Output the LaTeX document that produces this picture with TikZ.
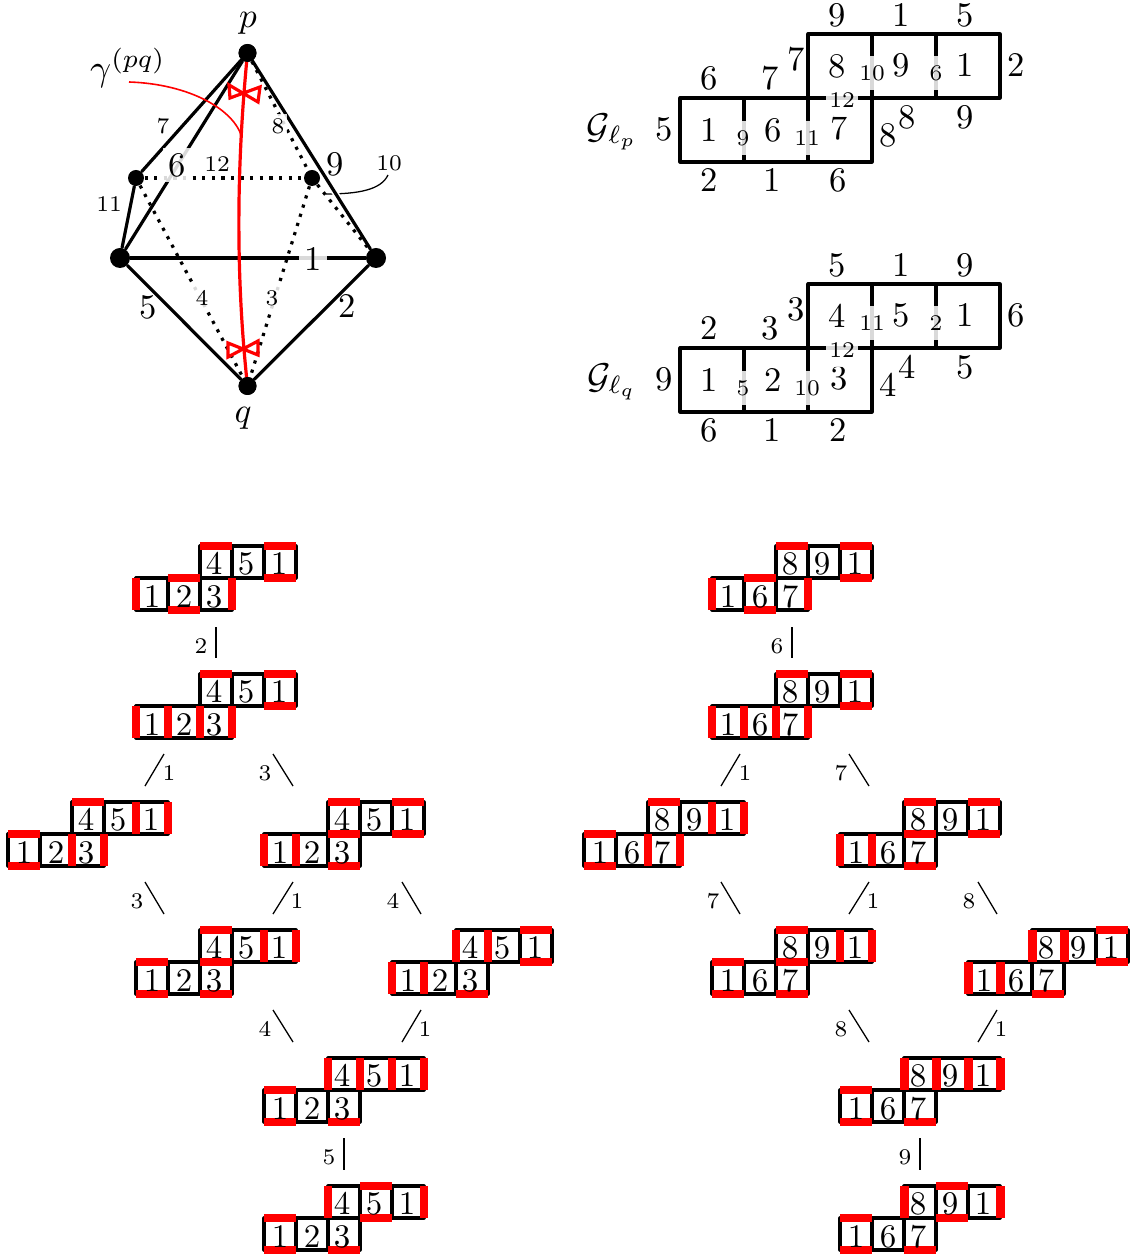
\documentclass[tikz,border=0pt]{standalone}
\usepackage{amsmath}
\tikzset{
  px/.style={x=0.3125pt,y=-0.3125pt},
  ln/.style={line width=1pt,line cap=round,line join=round,black},
  dots/.style={line width=1pt,dotted,black},
  redbar/.style={line width=2.8pt,red,line cap=butt},
  redln/.style={line width=1pt,red},
  bow/.style={line width=1pt,red,line join=miter},
  thinred/.style={line width=0.5pt,red},
  thinln/.style={line width=0.4pt,black},
  vtx/.style={circle,fill=black,inner sep=0pt,minimum size=#1},
  dig/.style={inner sep=0pt,scale=1.03},
  big/.style={scale=1.08,fill=white,fill opacity=.85,text opacity=1,inner xsep=1.6pt,inner ysep=1.5pt},
  sml/.style={font=\scriptsize,fill=white,fill opacity=.85,text opacity=1,inner xsep=1pt,inner ysep=3pt},
  tsm/.style={font=\scriptsize,fill=white,fill opacity=.85,text opacity=1,inner xsep=0.8pt,inner ysep=1.5pt},
  smallbare/.style={font=\scriptsize,inner sep=0pt},
  bare/.style={inner sep=0pt,scale=1.08},
  mathlab/.style={inner sep=0pt,scale=#1},
}
\newcommand{\xTa}{\draw[redbar] (0,0)--(32,0);}
\newcommand{\xTb}{\draw[redbar] (32,0)--(64,0);}
\newcommand{\xBa}{\draw[redbar] (0,32)--(32,32);}
\newcommand{\xBb}{\draw[redbar] (32,32)--(64,32);}
\newcommand{\xBc}{\draw[redbar] (64,32)--(96,32);}
\newcommand{\xLa}{\draw[redbar] (0,0)--(0,32);}
\newcommand{\xab}{\draw[redbar] (32,0)--(32,32);}
\newcommand{\xbc}{\draw[redbar] (64,0)--(64,32);}
\newcommand{\xRc}{\draw[redbar] (96,0)--(96,32);}
\newcommand{\xTd}{\draw[redbar] (64,-32)--(96,-32);}
\newcommand{\xTe}{\draw[redbar] (96,-32)--(128,-32);}
\newcommand{\xTf}{\draw[redbar] (128,-32)--(160,-32);}
\newcommand{\xBd}{\draw[redbar] (64,0)--(96,0);}
\newcommand{\xBe}{\draw[redbar] (96,0)--(128,0);}
\newcommand{\xBf}{\draw[redbar] (128,0)--(160,0);}
\newcommand{\xLd}{\draw[redbar] (64,-32)--(64,0);}
\newcommand{\xde}{\draw[redbar] (96,-32)--(96,0);}
\newcommand{\xef}{\draw[redbar] (128,-32)--(128,0);}
\newcommand{\xRf}{\draw[redbar] (160,-32)--(160,0);}
\newcommand{\flipg}[6]{%
  \begin{scope}[shift={(#2,#3)}]
    \draw[ln] (0,0) rectangle (96,32);
    \draw[ln] (64,-32) rectangle (160,0);
    \draw[ln] (32,0)--(32,32) (64,0)--(64,32) (96,-32)--(96,0) (128,-32)--(128,0);
    #6
    \node[dig] (#1a) at (16,18.5) {1};
    \node[dig] (#1b) at (48,18.5) {#4};
    \node[dig] (#1c) at (78,18.5) {#5};
    \node[dig] (#1d) at (78,-14.5) {\dlabel};
    \node[dig] (#1e) at (110,-14.5) {\elabel};
    \node[dig] (#1f) at (143,-14.5) {1};
  \end{scope}}
\newcommand{\tconn}[8]{%
  \coordinate (#1s) at (#2,#3);
  \coordinate (#1t) at (#4,#5);
  \draw[thinln] (#1s)--(#1t);
  \node[smallbare] (#1l) at (#7,#8) {#6};}
\newcommand{\ftree}[5]{%
  \def\dlabel{#4}\def\elabel{#5}%
  \flipg{#1g}{136}{578}{#2}{#3}{\xTd\xTf\xBf\xLa\xTb\xBb\xRc}
  \flipg{#1h}{136}{706}{#2}{#3}{\xTd\xTf\xBf\xLa\xab\xbc\xRc}
  \flipg{#1i}{8}{834}{#2}{#3}{\xTd\xef\xRf\xTa\xBa\xbc\xRc}
  \flipg{#1j}{264}{834}{#2}{#3}{\xTd\xBd\xTf\xBf\xLa\xab\xBc}
  \flipg{#1k}{136}{962}{#2}{#3}{\xTd\xBd\xef\xRf\xTa\xBa\xBc}
  \flipg{#1m}{392}{962}{#2}{#3}{\xLd\xde\xTf\xBf\xLa\xab\xBc}
  \flipg{#1n}{264}{1090}{#2}{#3}{\xLd\xde\xef\xRf\xTa\xBa\xBc}
  \flipg{#1o}{264}{1218}{#2}{#3}{\xLd\xTe\xBe\xRf\xTa\xBa\xBc}
  \tconn{#1ca}{216}{627}{216}{658}{#2}{201}{646}
  \tconn{#1cb}{164}{754}{145}{786}{1}{169}{773}
  \tconn{#1cc}{273}{754}{293}{786}{#3}{265}{773}
  \tconn{#1cd}{145}{882}{164}{914}{#3}{137}{901}
  \tconn{#1ce}{293}{882}{273}{914}{1}{297}{901}
  \tconn{#1cf}{402}{882}{421}{914}{#4}{393}{901}
  \tconn{#1cg}{273}{1010}{293}{1042}{#4}{265}{1029}
  \tconn{#1ch}{421}{1010}{402}{1042}{1}{425}{1029}
  \tconn{#1ci}{344}{1138}{344}{1170}{#5}{329}{1157}}
\newcommand{\biggrid}{%
  \draw[ln] (680,98) rectangle (872,162);
  \draw[ln] (808,34) rectangle (1000,98);
  \draw[ln] (744,98)--(744,162) (808,98)--(808,162) (872,34)--(872,98) (936,34)--(936,98);}
\begin{document}
\begin{tikzpicture}[px]
\useasboundingbox (0,0) rectangle (1132,1256);
% polytope
\node[vtx=5.6pt] (p) at (247.5,53) {};
\node[vtx=5pt] (A) at (136,178) {};
\node[vtx=5pt] (B) at (312,178) {};
\node[vtx=6.25pt] (L) at (120,258) {};
\node[vtx=6.25pt] (R) at (376,258) {};
\node[vtx=5.6pt] (q) at (247.5,386) {};
\node[smallbare] (l10) at (389,163) {10};
\coordinate (c10) at (326,194);
\draw[thinln] (388,175) .. controls (381,190) and (358,194) .. (c10);
\draw[white,line width=2pt] (p)--(R);
\draw[ln] (p)--(A);
\draw[ln] (p)--(L);
\draw[ln] (p)--(R);
\draw[ln] (A)--(L);
\draw[ln] (L)--(R);
\draw[ln] (L)--(q);
\draw[ln] (R)--(q);
\draw[dots] (A)--(B);
\draw[dots] (p)--(B);
\draw[dots] (B)--(R);
\draw[dots] (A)--(q);
\draw[dots] (B)--(q);
\draw[redln] (p.center) .. controls (236,170) and (236,280) .. (q.center);
\draw[bow] (229,85)--(258,102)--(260,87)--(230,98)--cycle;
\draw[bow] (228,343)--(258,355)--(258,341)--(228,357)--cycle;
\fill (p) circle (9);
\fill (q) circle (9);
\coordinate (gs) at (129,82);
\coordinate (gt) at (242,138);
\draw[thinred] (gs) .. controls (190,84) and (235,110) .. (gt);
\node[mathlab=1.1] (nameP) at (248,23) {$p$};
\node[mathlab=1.1] (nameQ) at (243,418) {$q$};
\node[mathlab=1.15] (gam) at (128,68) {$\gamma^{(pq)}$};
\node[smallbare] (e7) at (163,126) {7};
\node[big] (e6) at (177,165) {6};
\node[tsm] (e12) at (217,164) {12};
\node[tsm] (e8) at (278,126) {8};
\node[bare] (e9) at (335,164) {9};
\node[smallbare] (e11) at (109,204) {11};
\node[bare] (e5) at (148,307) {5};
\node[tsm] (e4) at (202,298) {4};
\node[tsm] (e3) at (272,298) {3};
\node[big] (e1) at (313,259) {1};
\node[bare] (e2) at (347,306) {2};
% upper grid
\biggrid
\node[mathlab=1.12] (ga) at (612,132) {$\mathcal{G}_{\ell_p}$};
\node[bare] (ga1) at (709,130) {1};
\node[bare] (ga2) at (773,130) {6};
\node[bare] (ga3) at (839,128) {7};
\node[bare] (ga4) at (837,66) {8};
\node[bare] (ga5) at (901,65) {9};
\node[bare] (ga6) at (965,65) {1};
\node[sml] (sa1) at (743,138) {9};
\node[sml] (sa2) at (807,138) {11};
\node[sml] (sa3) at (872,73) {10};
\node[sml] (sa4) at (936,73) {6};
\node[sml] (sa5) at (842,100) {12};
\node[bare] (oa1) at (837,15) {9};
\node[bare] (oa2) at (901,15) {1};
\node[bare] (oa3) at (965,15) {5};
\node[bare] (oa4) at (1016,65) {2};
\node[bare] (oa5) at (965,117) {9};
\node[bare] (oa6) at (907,117) {8};
\node[bare] (oa7) at (888,135) {8};
\node[bare] (oa8) at (796,59) {7};
\node[bare] (oa9) at (770,78) {7};
\node[bare] (oa10) at (709,78) {6};
\node[bare] (oa11) at (664,129) {5};
\node[bare] (oa12) at (709,180) {2};
\node[bare] (oa13) at (772,180) {1};
\node[bare] (oa14) at (838,180) {6};
% lower grid
\begin{scope}[yshift=-78.125pt]
\biggrid
\node[mathlab=1.12] (gb) at (612,132) {$\mathcal{G}_{\ell_q}$};
\node[bare] (gb1) at (709,130) {1};
\node[bare] (gb2) at (773,130) {2};
\node[bare] (gb3) at (839,128) {3};
\node[bare] (gb4) at (837,66) {4};
\node[bare] (gb5) at (901,65) {5};
\node[bare] (gb6) at (965,65) {1};
\node[sml] (sb1) at (743,138) {5};
\node[sml] (sb2) at (807,138) {10};
\node[sml] (sb3) at (872,73) {11};
\node[sml] (sb4) at (936,73) {2};
\node[sml] (sb5) at (842,100) {12};
\node[bare] (ob1) at (837,15) {5};
\node[bare] (ob2) at (901,15) {1};
\node[bare] (ob3) at (965,15) {9};
\node[bare] (ob4) at (1016,65) {6};
\node[bare] (ob5) at (965,117) {5};
\node[bare] (ob6) at (907,117) {4};
\node[bare] (ob7) at (888,135) {4};
\node[bare] (ob8) at (796,59) {3};
\node[bare] (ob9) at (770,78) {3};
\node[bare] (ob10) at (709,78) {2};
\node[bare] (ob11) at (664,129) {9};
\node[bare] (ob12) at (709,180) {6};
\node[bare] (ob13) at (772,180) {1};
\node[bare] (ob14) at (838,180) {2};
\end{scope}
% flip trees
\ftree{u}{2}{3}{4}{5}
\begin{scope}[shift={(576,0)}]
\ftree{v}{6}{7}{8}{9}
\end{scope}
\end{tikzpicture}
\end{document}
